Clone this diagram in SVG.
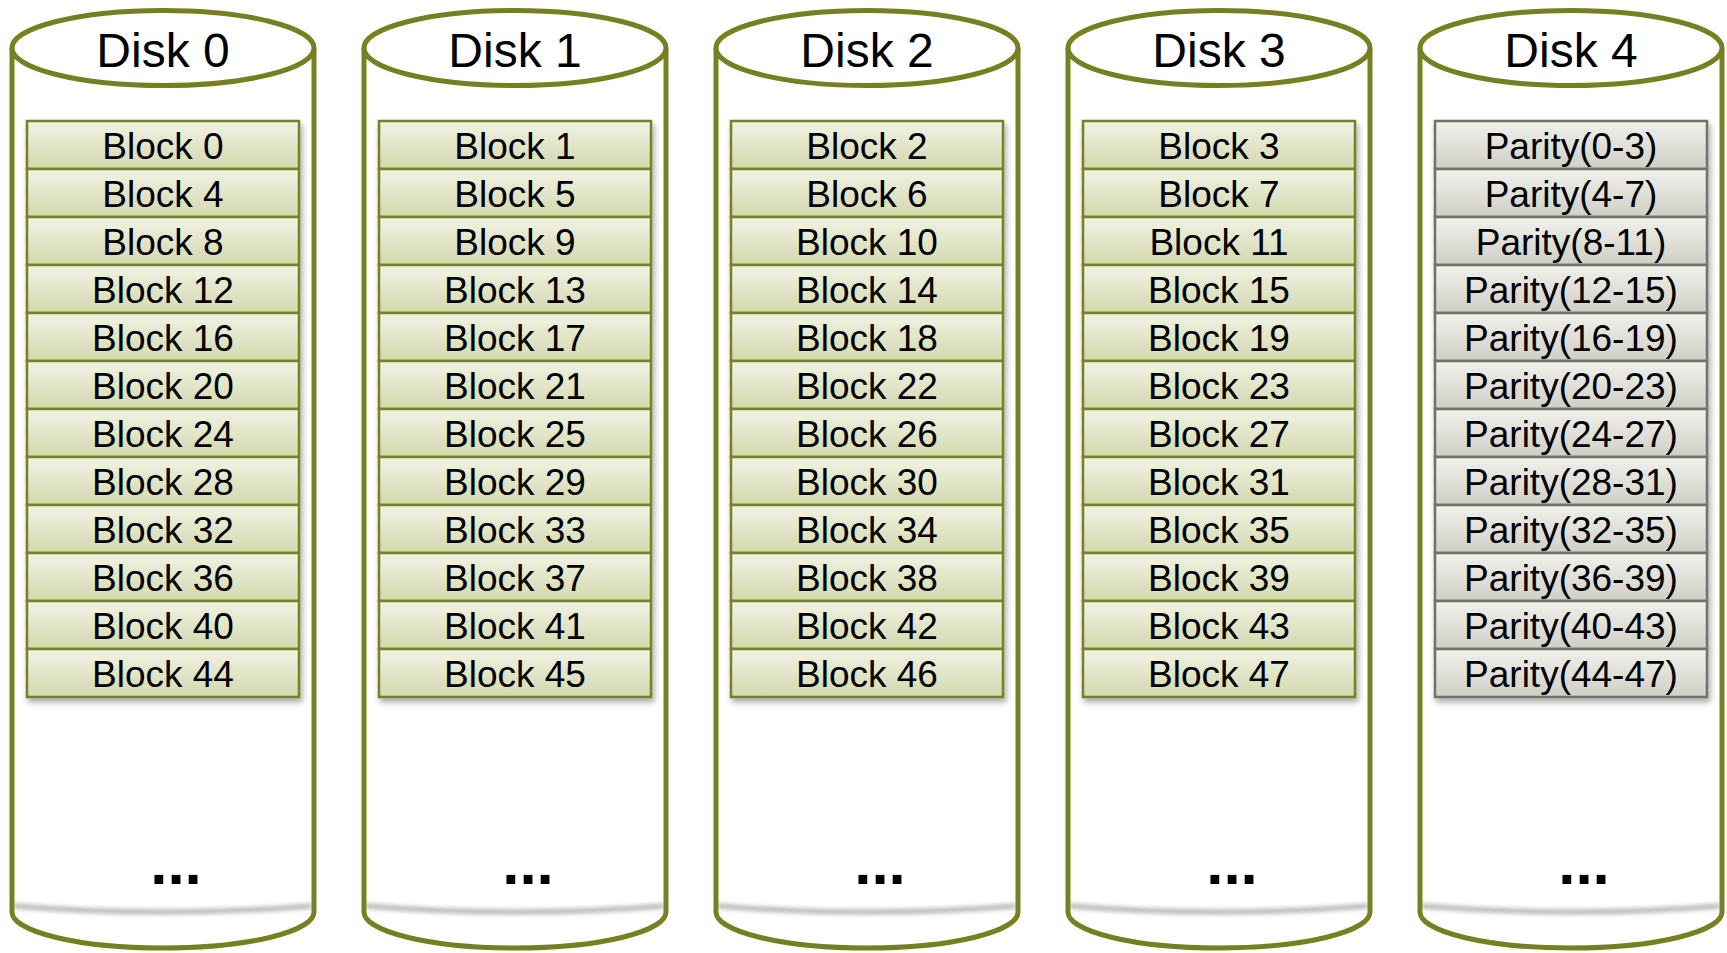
<svg xmlns="http://www.w3.org/2000/svg" width="1727" height="953" viewBox="0 0 1727 953">
<defs>
<linearGradient id="gBlock" x1="0" y1="0" x2="0" y2="1"><stop offset="0" stop-color="#f1f3e4"/><stop offset="1" stop-color="#d3d8ae"/></linearGradient>
<linearGradient id="gPar" x1="0" y1="0" x2="0" y2="1"><stop offset="0" stop-color="#f1f1ec"/><stop offset="1" stop-color="#cfcfc6"/></linearGradient>
<filter id="sh" x="-10%" y="-10%" width="130%" height="130%"><feDropShadow dx="2" dy="4" stdDeviation="3" flood-color="#000" flood-opacity="0.35"/></filter>
<filter id="blur" x="-5%" y="-100%" width="110%" height="300%"><feGaussianBlur stdDeviation="2"/></filter>
<g id="cyl">
<path d="M14,906 Q163,918 312,906" fill="none" stroke="#b4b4b4" stroke-width="5" filter="url(#blur)"/>
<path d="M12,48 L12,912 A151,36 0 0 0 314,912 L314,48" fill="none" stroke="#778020" stroke-width="5"/>
<ellipse cx="163" cy="48" rx="151" ry="37.5" fill="#fff" stroke="#778020" stroke-width="5"/>
</g>
</defs>
<style>
.t{font-family:"Liberation Sans",Arial,sans-serif;fill:#000;text-anchor:middle}
.d{font-size:48px}
.b{font-size:37px}
.dots{font-size:62px;font-weight:bold}
.blk{fill:url(#gBlock);stroke:#778020;stroke-width:2.5}
.par{fill:url(#gPar);stroke:#707264;stroke-width:2.5}
</style>
<rect width="1727" height="953" fill="#fff"/>
<g id="disk0">
<use href="#cyl"/>
<text class="t d" x="163" y="67">Disk 0</text>
<g filter="url(#sh)">
<rect class="blk" x="27" y="121" width="272" height="48"/><rect class="blk" x="27" y="169" width="272" height="48"/><rect class="blk" x="27" y="217" width="272" height="48"/><rect class="blk" x="27" y="265" width="272" height="48"/><rect class="blk" x="27" y="313" width="272" height="48"/><rect class="blk" x="27" y="361" width="272" height="48"/><rect class="blk" x="27" y="409" width="272" height="48"/><rect class="blk" x="27" y="457" width="272" height="48"/><rect class="blk" x="27" y="505" width="272" height="48"/><rect class="blk" x="27" y="553" width="272" height="48"/><rect class="blk" x="27" y="601" width="272" height="48"/><rect class="blk" x="27" y="649" width="272" height="48"/>
</g>
<text class="t b" x="163" y="159">Block 0</text><text class="t b" x="163" y="207">Block 4</text><text class="t b" x="163" y="255">Block 8</text><text class="t b" x="163" y="303">Block 12</text><text class="t b" x="163" y="351">Block 16</text><text class="t b" x="163" y="399">Block 20</text><text class="t b" x="163" y="447">Block 24</text><text class="t b" x="163" y="495">Block 28</text><text class="t b" x="163" y="543">Block 32</text><text class="t b" x="163" y="591">Block 36</text><text class="t b" x="163" y="639">Block 40</text><text class="t b" x="163" y="687">Block 44</text>
<text class="t dots" x="176" y="884">...</text>
</g>
<g id="disk1" transform="translate(352,0)">
<use href="#cyl"/>
<text class="t d" x="163" y="67">Disk 1</text>
<g filter="url(#sh)">
<rect class="blk" x="27" y="121" width="272" height="48"/><rect class="blk" x="27" y="169" width="272" height="48"/><rect class="blk" x="27" y="217" width="272" height="48"/><rect class="blk" x="27" y="265" width="272" height="48"/><rect class="blk" x="27" y="313" width="272" height="48"/><rect class="blk" x="27" y="361" width="272" height="48"/><rect class="blk" x="27" y="409" width="272" height="48"/><rect class="blk" x="27" y="457" width="272" height="48"/><rect class="blk" x="27" y="505" width="272" height="48"/><rect class="blk" x="27" y="553" width="272" height="48"/><rect class="blk" x="27" y="601" width="272" height="48"/><rect class="blk" x="27" y="649" width="272" height="48"/>
</g>
<text class="t b" x="163" y="159">Block 1</text><text class="t b" x="163" y="207">Block 5</text><text class="t b" x="163" y="255">Block 9</text><text class="t b" x="163" y="303">Block 13</text><text class="t b" x="163" y="351">Block 17</text><text class="t b" x="163" y="399">Block 21</text><text class="t b" x="163" y="447">Block 25</text><text class="t b" x="163" y="495">Block 29</text><text class="t b" x="163" y="543">Block 33</text><text class="t b" x="163" y="591">Block 37</text><text class="t b" x="163" y="639">Block 41</text><text class="t b" x="163" y="687">Block 45</text>
<text class="t dots" x="176" y="884">...</text>
</g>
<g id="disk2" transform="translate(704,0)">
<use href="#cyl"/>
<text class="t d" x="163" y="67">Disk 2</text>
<g filter="url(#sh)">
<rect class="blk" x="27" y="121" width="272" height="48"/><rect class="blk" x="27" y="169" width="272" height="48"/><rect class="blk" x="27" y="217" width="272" height="48"/><rect class="blk" x="27" y="265" width="272" height="48"/><rect class="blk" x="27" y="313" width="272" height="48"/><rect class="blk" x="27" y="361" width="272" height="48"/><rect class="blk" x="27" y="409" width="272" height="48"/><rect class="blk" x="27" y="457" width="272" height="48"/><rect class="blk" x="27" y="505" width="272" height="48"/><rect class="blk" x="27" y="553" width="272" height="48"/><rect class="blk" x="27" y="601" width="272" height="48"/><rect class="blk" x="27" y="649" width="272" height="48"/>
</g>
<text class="t b" x="163" y="159">Block 2</text><text class="t b" x="163" y="207">Block 6</text><text class="t b" x="163" y="255">Block 10</text><text class="t b" x="163" y="303">Block 14</text><text class="t b" x="163" y="351">Block 18</text><text class="t b" x="163" y="399">Block 22</text><text class="t b" x="163" y="447">Block 26</text><text class="t b" x="163" y="495">Block 30</text><text class="t b" x="163" y="543">Block 34</text><text class="t b" x="163" y="591">Block 38</text><text class="t b" x="163" y="639">Block 42</text><text class="t b" x="163" y="687">Block 46</text>
<text class="t dots" x="176" y="884">...</text>
</g>
<g id="disk3" transform="translate(1056,0)">
<use href="#cyl"/>
<text class="t d" x="163" y="67">Disk 3</text>
<g filter="url(#sh)">
<rect class="blk" x="27" y="121" width="272" height="48"/><rect class="blk" x="27" y="169" width="272" height="48"/><rect class="blk" x="27" y="217" width="272" height="48"/><rect class="blk" x="27" y="265" width="272" height="48"/><rect class="blk" x="27" y="313" width="272" height="48"/><rect class="blk" x="27" y="361" width="272" height="48"/><rect class="blk" x="27" y="409" width="272" height="48"/><rect class="blk" x="27" y="457" width="272" height="48"/><rect class="blk" x="27" y="505" width="272" height="48"/><rect class="blk" x="27" y="553" width="272" height="48"/><rect class="blk" x="27" y="601" width="272" height="48"/><rect class="blk" x="27" y="649" width="272" height="48"/>
</g>
<text class="t b" x="163" y="159">Block 3</text><text class="t b" x="163" y="207">Block 7</text><text class="t b" x="163" y="255">Block 11</text><text class="t b" x="163" y="303">Block 15</text><text class="t b" x="163" y="351">Block 19</text><text class="t b" x="163" y="399">Block 23</text><text class="t b" x="163" y="447">Block 27</text><text class="t b" x="163" y="495">Block 31</text><text class="t b" x="163" y="543">Block 35</text><text class="t b" x="163" y="591">Block 39</text><text class="t b" x="163" y="639">Block 43</text><text class="t b" x="163" y="687">Block 47</text>
<text class="t dots" x="176" y="884">...</text>
</g>
<g id="disk4" transform="translate(1408,0)">
<use href="#cyl"/>
<text class="t d" x="163" y="67">Disk 4</text>
<g filter="url(#sh)">
<rect class="par" x="27" y="121" width="272" height="48"/><rect class="par" x="27" y="169" width="272" height="48"/><rect class="par" x="27" y="217" width="272" height="48"/><rect class="par" x="27" y="265" width="272" height="48"/><rect class="par" x="27" y="313" width="272" height="48"/><rect class="par" x="27" y="361" width="272" height="48"/><rect class="par" x="27" y="409" width="272" height="48"/><rect class="par" x="27" y="457" width="272" height="48"/><rect class="par" x="27" y="505" width="272" height="48"/><rect class="par" x="27" y="553" width="272" height="48"/><rect class="par" x="27" y="601" width="272" height="48"/><rect class="par" x="27" y="649" width="272" height="48"/>
</g>
<text class="t b" x="163" y="159">Parity(0-3)</text><text class="t b" x="163" y="207">Parity(4-7)</text><text class="t b" x="163" y="255">Parity(8-11)</text><text class="t b" x="163" y="303">Parity(12-15)</text><text class="t b" x="163" y="351">Parity(16-19)</text><text class="t b" x="163" y="399">Parity(20-23)</text><text class="t b" x="163" y="447">Parity(24-27)</text><text class="t b" x="163" y="495">Parity(28-31)</text><text class="t b" x="163" y="543">Parity(32-35)</text><text class="t b" x="163" y="591">Parity(36-39)</text><text class="t b" x="163" y="639">Parity(40-43)</text><text class="t b" x="163" y="687">Parity(44-47)</text>
<text class="t dots" x="176" y="884">...</text>
</g>
<g id="connectors"/>
</svg>
